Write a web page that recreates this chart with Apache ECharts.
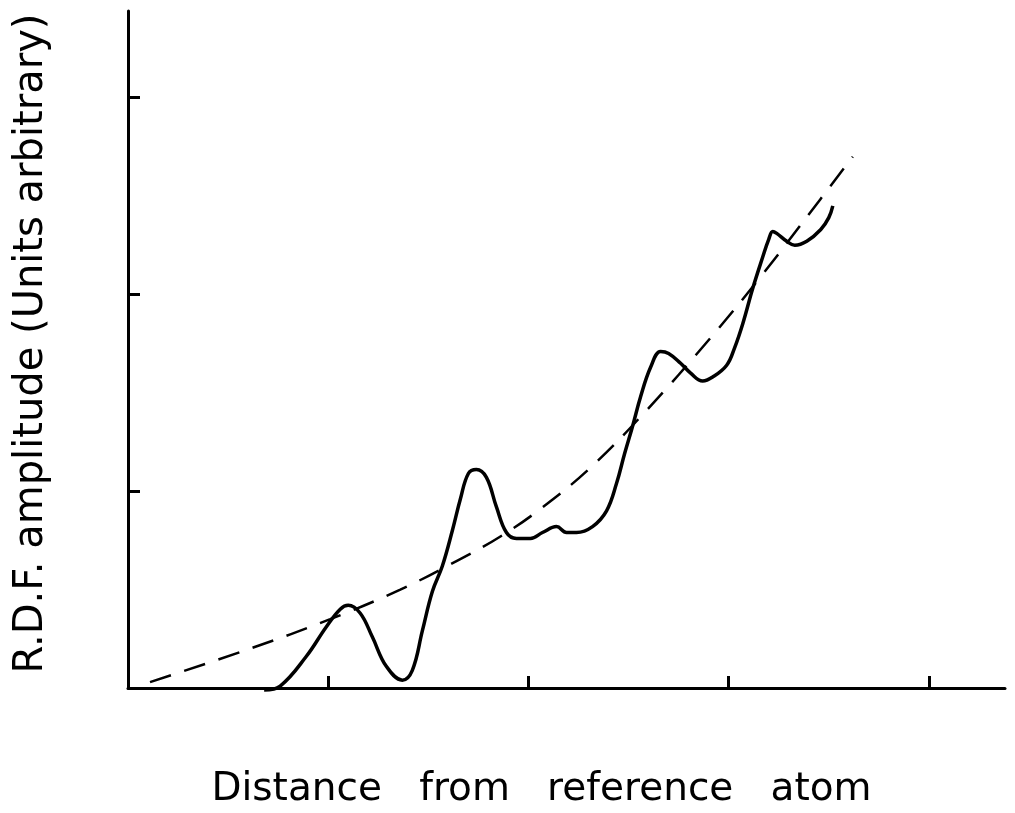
<!DOCTYPE html>
<html>
<head>
<meta charset="utf-8">
<script src="https://cdn.jsdelivr.net/npm/echarts@6/dist/echarts.min.js"></script>
<style>
  html, body { margin: 0; padding: 0; background: #fff; }
  #wrap { width: 1015px; height: 813px; }
</style>
</head>
<body>
<div id="wrap"></div>
<script>
// measured RDF curve (distance, amplitude) - units arbitrary
var rdfX = [0.68, 0.76, 0.89, 0.99, 1.06, 1.10, 1.16, 1.22, 1.29, 1.37, 1.42, 1.47, 1.52, 1.57, 1.62, 1.66, 1.70, 1.74, 1.79, 1.84, 1.89, 1.94, 2.01, 2.07, 2.14, 2.19, 2.24, 2.32, 2.39, 2.44, 2.48, 2.52, 2.56, 2.61, 2.66, 2.70, 2.76, 2.81, 2.87, 2.92, 2.99, 3.03, 3.07, 3.12, 3.17, 3.20, 3.22, 3.24, 3.29, 3.33, 3.39, 3.46, 3.50, 3.52];
var rdfY = [-0.01, 0.01, 0.16, 0.31, 0.40, 0.42, 0.38, 0.26, 0.11, 0.04, 0.09, 0.29, 0.49, 0.62, 0.80, 0.96, 1.09, 1.11, 1.07, 0.92, 0.79, 0.76, 0.76, 0.79, 0.82, 0.79, 0.79, 0.82, 0.90, 1.04, 1.19, 1.33, 1.48, 1.63, 1.71, 1.70, 1.65, 1.60, 1.56, 1.58, 1.64, 1.73, 1.85, 2.03, 2.19, 2.28, 2.32, 2.31, 2.27, 2.25, 2.27, 2.33, 2.39, 2.45];

// average density curve (dashed)
var avgX = [0.11, 0.61, 1.01, 1.36, 1.65, 1.86, 2.06, 2.31, 2.58, 2.91, 3.16, 3.38, 3.62];
var avgY = [0.03, 0.20, 0.35, 0.50, 0.65, 0.77, 0.91, 1.12, 1.40, 1.78, 2.09, 2.38, 2.70];

var xTicks = [1, 2, 3, 4];
var yTicks = [1, 2, 3];

function pairs(xs, ys) {
  return xs.map(function (x, i) { return [x, ys[i]]; });
}

var font = 'DejaVu Sans';

var option = {
  backgroundColor: '#fff',
  animation: false,
  grid: { left: 128, right: 10, top: 11, bottom: 125, outerBoundsMode: 'none' },
  xAxis: {
    type: 'value',
    min: 0,
    max: 4.38,
    interval: 1,
    name: 'Distance   from   reference   atom',
    nameLocation: 'middle',
    nameGap: 82,
    nameTextStyle: { color: '#000', fontFamily: font, fontSize: 39, padding: [0, 50, 0, 0] },
    axisLine: { lineStyle: { color: '#000', width: 3 } },
    axisTick: { inside: true, length: 12, lineStyle: { color: '#000', width: 3 }, customValues: xTicks },
    axisLabel: { show: false },
    splitLine: { show: false }
  },
  yAxis: {
    type: 'value',
    min: 0,
    max: 3.44,
    interval: 1,
    name: 'R.D.F. amplitude (Units arbitrary)',
    nameLocation: 'middle',
    nameGap: 76,
    nameTextStyle: { color: '#000', fontFamily: font, fontSize: 40, padding: [0, 0, 0, 12] },
    axisLine: { lineStyle: { color: '#000', width: 3 } },
    axisTick: { inside: true, length: 12, lineStyle: { color: '#000', width: 3 }, customValues: yTicks },
    axisLabel: { show: false },
    splitLine: { show: false }
  },
  series: [
    {
      type: 'line',
      data: pairs(avgX, avgY),
      smooth: 0.4,
      showSymbol: false,
      lineStyle: { color: '#000', width: 2.5, type: [22, 14] }
    },
    {
      type: 'line',
      data: pairs(rdfX, rdfY),
      smooth: 0.4,
      clip: false,
      showSymbol: false,
      lineStyle: { color: '#000', width: 3.5 }
    }
  ]
};

var myChart = echarts.init(document.getElementById('wrap'));
myChart.setOption(option);
</script>
</body>
</html>
